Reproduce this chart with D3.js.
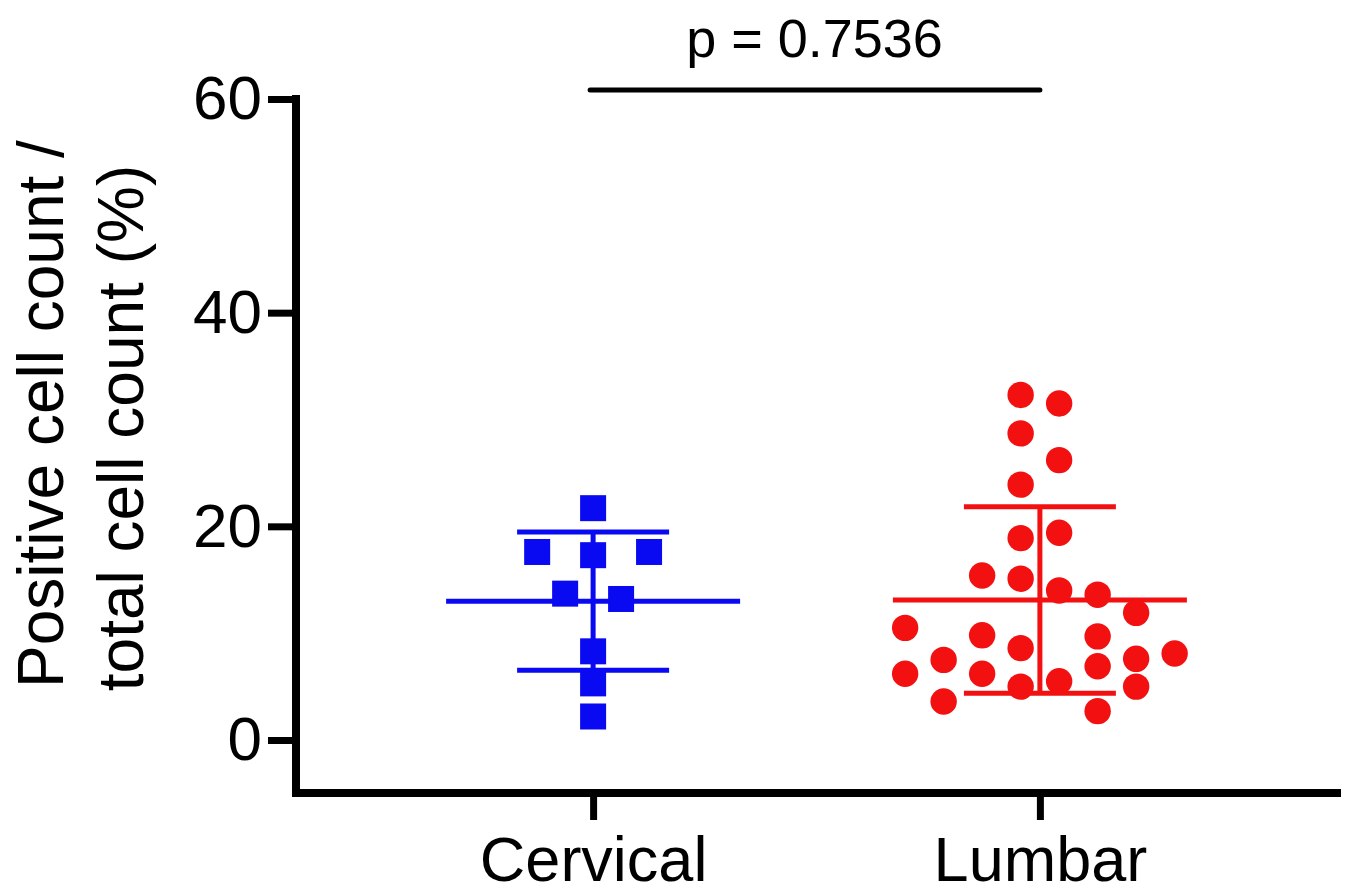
<!DOCTYPE html>
<html>
<head>
<meta charset="utf-8">
<script src="https://cdn.jsdelivr.net/npm/d3@7"></script>
<style>
  html, body { margin: 0; padding: 0; background: #ffffff; }
  svg { display: block; }
</style>
</head>
<body>
<svg id="chart" width="1347" height="896"></svg>
<script>
// groups on the x axis
const categories = ["Cervical", "Lumbar"];

// values (%)
const cervicalValues = [21.7, 17.6, 17.3, 17.6, 13.7, 13.2, 8.3, 5.3, 2.2];
const lumbarValues = [
  32.3, 31.5, 28.7, 26.2, 23.9, 18.9, 19.4, 15.4, 15.1, 14.0, 13.6, 11.9, 10.5, 9.8,
  9.7, 8.6, 8.1, 7.5, 7.6, 6.9, 6.2, 6.2, 5.0, 5.5, 5.0, 3.6, 2.7
];

// scatter slot of each point (in marker widths from the column centre)
const cervicalSlots = [0, -1.5, 0, 1.5, -0.75, 0.75, 0, 0, 0];
const lumbarSlots = [
  -0.5, 0.5, -0.5, 0.5, -0.5, -0.5, 0.5, -1.5, -0.5, 0.5, 1.5, 2.5, -3.5, -1.5,
  1.5, -0.5, 3.5, -2.5, 2.5, 1.5, -3.5, -1.5, -0.5, 0.5, 2.5, -2.5, 1.5
];

const yTicks = [0, 20, 40, 60];
const pLabel = "p = 0.7536";
const yTitle = ["Positive cell count /", "total cell count (%)"];

const FONT = "'Liberation Sans', Arial, Helvetica, sans-serif";
const BLUE = "#0a0af2";
const RED = "#f21010";

const svg = d3.select("#chart");

const axisX = 296, axisY = 793, axisRight = 1337;

const x = d3.scalePoint()
  .domain(categories)
  .range([axisX, axisRight])
  .padding(0.665);

const y = d3.scaleLinear()
  .domain([0, 60])
  .range([740, 99]);

// y axis
const gy = svg.append("g").attr("transform", `translate(${axisX},0)`);
gy.call(d3.axisLeft(y).tickValues(yTicks).tickSize(28).tickPadding(6).tickSizeOuter(0));
gy.select(".domain").remove();
gy.selectAll(".tick line").attr("stroke", "#000").attr("stroke-width", 7);
gy.selectAll(".tick text")
  .attr("font-family", FONT)
  .attr("font-size", 62)
  .attr("fill", "#000");

// x axis
const gx = svg.append("g").attr("transform", `translate(0,${axisY})`);
gx.call(d3.axisBottom(x).tickSize(27).tickPadding(0).tickSizeOuter(0));
gx.select(".domain").remove();
gx.selectAll(".tick line").attr("stroke", "#000").attr("stroke-width", 7);
gx.selectAll(".tick text")
  .attr("y", 88)
  .attr("dy", 0)
  .attr("font-family", FONT)
  .attr("font-size", 63)
  .attr("fill", "#000");

// axis lines drawn as one corner
svg.append("path")
  .attr("d", d3.line()([[axisX, y(60)], [axisX, axisY], [axisRight, axisY]]))
  .attr("fill", "none")
  .attr("stroke", "#000")
  .attr("stroke-width", 8)
  .attr("stroke-linecap", "square")
  .attr("stroke-linejoin", "miter");

// y title, two lines rotated
const titleBaselines = [63, 143];
const titleCentres = [414, 428];
yTitle.forEach((t, i) => {
  svg.append("text")
    .attr("transform", `translate(${titleBaselines[i]},${titleCentres[i]}) rotate(-90)`)
    .attr("text-anchor", "middle")
    .attr("font-family", FONT)
    .attr("font-size", 64)
    .attr("fill", "#000")
    .text(t);
});

// mean and SD bars
function drawErrorBars(cat, values, color) {
  const cx = x(cat);
  const m = d3.mean(values);
  const sd = d3.deviation(values);
  const g = svg.append("g").attr("stroke", color).attr("stroke-width", 5);
  g.append("line").attr("x1", cx).attr("x2", cx).attr("y1", y(m + sd)).attr("y2", y(m - sd));
  g.append("line").attr("x1", cx - 147).attr("x2", cx + 147).attr("y1", y(m)).attr("y2", y(m));
  [m + sd, m - sd].forEach(v => {
    g.append("line").attr("x1", cx - 76).attr("x2", cx + 76).attr("y1", y(v)).attr("y2", y(v));
  });
}

drawErrorBars("Cervical", cervicalValues, BLUE);
drawErrorBars("Lumbar", lumbarValues, RED);

// cervical squares
const sq = 26, sqStep = 37.3;
svg.append("g").selectAll("rect")
  .data(cervicalValues)
  .join("rect")
  .attr("x", (d, i) => x("Cervical") + cervicalSlots[i] * sqStep - sq / 2)
  .attr("y", d => y(d) - sq / 2)
  .attr("width", sq)
  .attr("height", sq)
  .attr("fill", BLUE);

// lumbar circles
const r = 13.2, cStep = 38.5;
svg.append("g").selectAll("circle")
  .data(lumbarValues)
  .join("circle")
  .attr("cx", (d, i) => x("Lumbar") + lumbarSlots[i] * cStep)
  .attr("cy", d => y(d))
  .attr("r", r)
  .attr("fill", RED);

// significance bar
svg.append("line")
  .attr("x1", x("Cervical") - 3)
  .attr("x2", x("Lumbar"))
  .attr("y1", 90)
  .attr("y2", 90)
  .attr("stroke", "#000")
  .attr("stroke-width", 5)
  .attr("stroke-linecap", "round");

svg.append("text")
  .attr("x", (x("Cervical") + x("Lumbar")) / 2 - 2)
  .attr("y", 57)
  .attr("text-anchor", "middle")
  .attr("font-family", FONT)
  .attr("font-size", 54)
  .attr("fill", "#000")
  .text(pLabel);
</script>
</body>
</html>
